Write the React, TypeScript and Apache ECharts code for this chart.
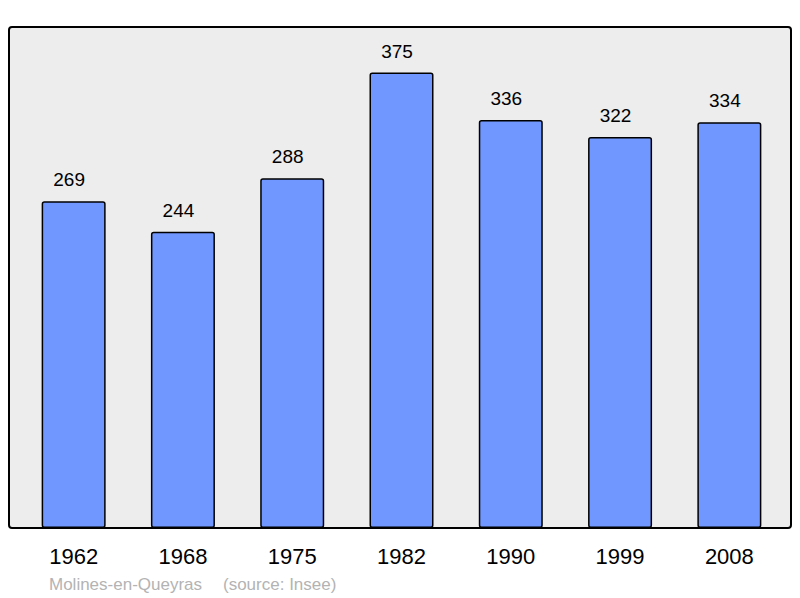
import React, { useEffect, useRef } from "react";
import * as echarts from "echarts";

const years = ["1962", "1968", "1975", "1982", "1990", "1999", "2008"];
const population = [269, 244, 288, 375, 336, 322, 334];
const placeName = "Molines-en-Queyras";
const sourceText = "(source: Insee)";

const FONT = "'Liberation Sans', Arial, sans-serif";

export default function App() {
  const ref = useRef<HTMLDivElement>(null);
  useEffect(() => {
    if (!ref.current) return;
    const chart = echarts.init(ref.current, undefined, { renderer: "svg" });
    chart.setOption({
      animation: false,
      backgroundColor: "#ffffff",
      grid: { left: 19, right: 16, top: 27, bottom: 70, containLabel: false },
      xAxis: {
        type: "category",
        data: years,
        axisLine: { show: false },
        axisTick: { show: false },
        axisLabel: {
          color: "#000",
          fontSize: 22,
          fontFamily: FONT,
          margin: 17,
        },
      },
      yAxis: {
        type: "value",
        min: 0,
        max: 412.5,
        show: false,
        splitLine: { show: false },
      },
      graphic: [
        {
          type: "rect",
          z: 0,
          shape: { x: 9, y: 27, width: 782, height: 501, r: 3 },
          style: { fill: "#ededed", stroke: "#000", lineWidth: 2 },
        },
        {
          type: "text",
          z: 5,
          x: 49,
          y: 584,
          style: {
            text: placeName,
            fill: "#b3b3b3",
            fontSize: 17,
            fontFamily: FONT,
            verticalAlign: "middle",
          },
        },
        {
          type: "text",
          z: 5,
          x: 223,
          y: 584,
          style: {
            text: sourceText,
            fill: "#b3b3b3",
            fontSize: 17,
            fontFamily: FONT,
            verticalAlign: "middle",
          },
        },
      ],
      series: [
        {
          type: "bar",
          data: population,
          barWidth: 64,
          z: 3,
          itemStyle: {
            color: "#7096ff",
            borderColor: "#000",
            borderWidth: 1.5,
            borderRadius: 2,
          },
          label: {
            show: true,
            position: "top",
            distance: 12,
            offset: [-4.5, 0],
            color: "#000",
            fontSize: 19,
            fontFamily: FONT,
          },
        },
      ],
    });
    return () => chart.dispose();
  }, []);
  return (
    <div
      ref={ref}
      style={{ position: "fixed", left: 0, top: 0, width: 800, height: 598 }}
    />
  );
}
